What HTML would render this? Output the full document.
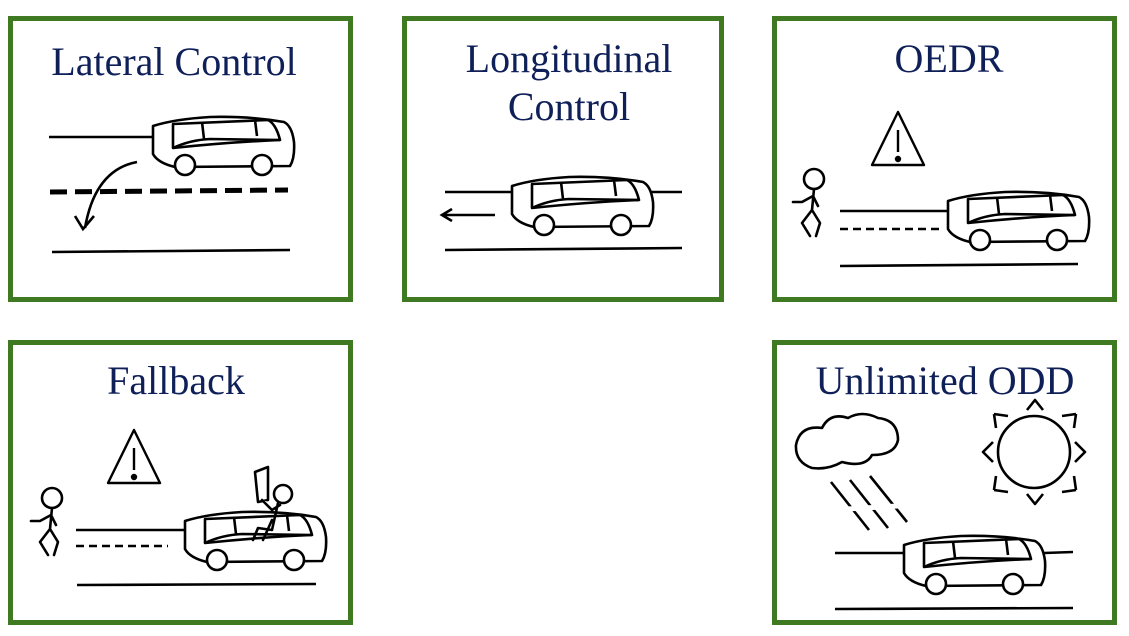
<!DOCTYPE html>
<html><head><style>
html,body{margin:0;padding:0;background:#fff;width:1129px;height:636px;overflow:hidden}
text{font-family:"Liberation Serif",serif;font-size:40px;fill:#0f1f58}
</style></head><body>
<svg width="1129" height="636" viewBox="0 0 1129 636" xmlns="http://www.w3.org/2000/svg">
<defs>
<g id="car" fill="none" stroke="#000" stroke-width="2.6" stroke-linejoin="round">
<path d="M3,10 L3,38 Q8,47 25,51 L140,50 Q145,42 144,26 Q142,10 134,6 Q100,0 60,1 Q25,3 3,10 Z" fill="#fff"/>
<path d="M23,8 L118,4 Q126,8 130,24 Q80,26 23,32 Z"/>
<path d="M52,6 L54,23 M105,4 L107,20 M23,32 Q40,24 60,23 L130,24"/>
<circle cx="35" cy="49" r="10" fill="#fff"/>
<circle cx="112" cy="49" r="10" fill="#fff"/>
</g>
<g id="warn" fill="none" stroke="#000" stroke-width="2.4">
<path d="M26,0 L52,53 L0,53 Z" stroke-linejoin="round"/>
<path d="M26,18 L26,40"/>
<circle cx="26" cy="47" r="2" fill="#000"/>
</g>
<g id="person" fill="none" stroke="#000" stroke-width="2.6" stroke-linecap="round" stroke-linejoin="round">
<circle cx="24" cy="11" r="10"/>
<path d="M24,21 L22,42 L12,55 L20,68 M22,42 L30,55 L26,68 M23,28 L12,34 L3,34 M23,28 L28,38"/>
</g>
</defs>
<g fill="none" stroke="#3f7a22" stroke-width="5">
<rect x="10.5" y="18.5" width="340" height="281"/>
<rect x="404.5" y="18.5" width="317" height="281"/>
<rect x="774.5" y="18.5" width="340" height="281"/>
<rect x="10.5" y="342.5" width="340" height="280"/>
<rect x="774.5" y="342.5" width="340" height="280"/>
</g>
<text x="174" y="75" text-anchor="middle">Lateral Control</text>
<text x="569" y="72" text-anchor="middle">Longitudinal</text>
<text x="569" y="120" text-anchor="middle">Control</text>
<text x="949" y="72" text-anchor="middle">OEDR</text>
<text x="176" y="394" text-anchor="middle">Fallback</text>
<text x="945" y="394" text-anchor="middle">Unlimited ODD</text>

<!-- box1 -->
<g stroke="#000" fill="none" stroke-width="2.6">
<path d="M49,137 L152,137"/>
<path d="M50,192 L288,190" stroke-width="5" stroke-dasharray="17,8"/>
<path d="M52,252 L290,250"/>
<path d="M137,162 Q95,170 85,228 M75,216 L83,229 L94,216"/>
</g>
<use href="#car" x="150" y="116"/>

<!-- box2 -->
<g stroke="#000" fill="none" stroke-width="2.6">
<path d="M445,192 L682,192"/>
<path d="M445,250 L682,248"/>
<path d="M495,215 L442,215 M452,209 L442,215 L452,221"/>
</g>
<use href="#car" x="509" y="176"/>

<!-- box3 -->
<use href="#warn" x="872" y="112"/>
<use href="#person" x="790" y="168"/>
<g stroke="#000" fill="none" stroke-width="2.6">
<path d="M840,211 L950,211"/>
<path d="M840,229 L940,229" stroke-dasharray="8,5"/>
<path d="M840,266 L1078,264"/>
</g>
<use href="#car" x="945" y="191"/>

<!-- box4 -->
<use href="#warn" x="108" y="430"/>
<use href="#person" x="28" y="487"/>
<g stroke="#000" fill="none" stroke-width="2.6">
<path d="M76,530 L184,530"/>
<path d="M76,546 L168,546" stroke-dasharray="8,5"/>
<path d="M77,585 L316,584"/>
</g>
<use href="#car" x="182" y="511"/>
<g stroke="#000" fill="#fff" stroke-width="2.6" stroke-linejoin="round" stroke-linecap="round">
<path d="M255,472 L268,467 L268,500 L258,502 Z" fill="none"/>
<path d="M262,500 L272,510 L280,505"/>
<circle cx="283" cy="494" r="9"/>
<path d="M278,503 L272,530 L258,528 L253,540 M272,520 L263,540" fill="none"/>
</g>

<!-- box5 -->
<g stroke="#000" fill="none" stroke-width="2.6" stroke-linejoin="round">
<path d="M812,468 Q795,462 796,445 Q800,425 822,428 Q830,412 848,418 Q862,410 878,418 Q898,420 898,440 Q895,455 872,455 Q865,468 842,462 Q828,470 812,468 Z"/>
<path d="M831,482 L869,530 M850,480 L888,528 M870,476 L907,522"/>
</g>
<g stroke="#fff" stroke-width="5"><path d="M830,510 L915,505"/></g>
<g stroke="#000" fill="none" stroke-width="2.6" stroke-linejoin="round">
<circle cx="1034" cy="452" r="36"/>
<path d="M1027,410 L1035,400 L1043,410 M1075,442 L1085,452 L1075,462 M1027,494 L1035,504 L1043,494 M993,442 L983,452 L993,462"/>
<path d="M994,414 L1008,416 M994,414 L996,428 M1076,414 L1062,416 M1076,414 L1074,428 M994,490 L1008,492 M994,490 L996,476 M1076,490 L1062,492 M1076,490 L1074,476"/>
<path d="M835,553 L905,553 M1044,553 L1073,552"/>
<path d="M835,609 L1073,608"/>
</g>
<use href="#car" x="901" y="535"/>
</svg>
</body></html>
